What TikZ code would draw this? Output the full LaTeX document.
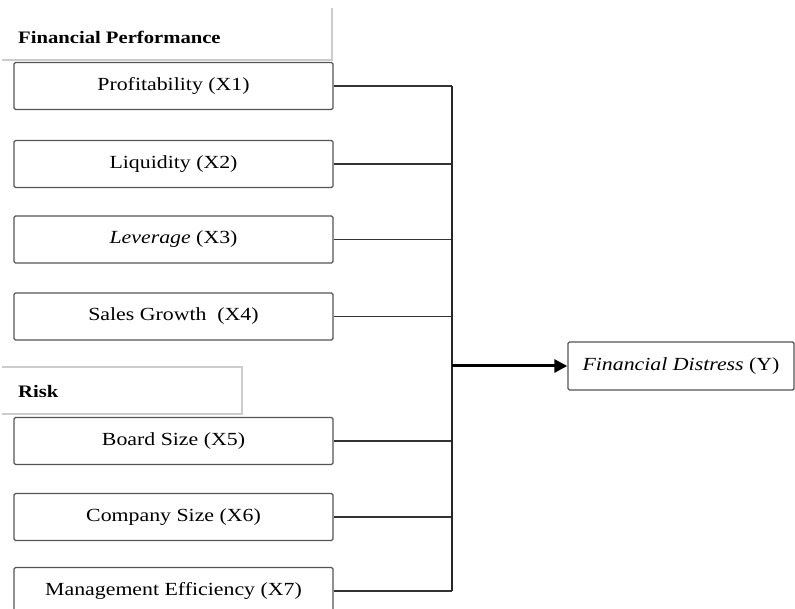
\documentclass[tikz,border=0pt]{standalone}
\usepackage{fontspec}
\setmainfont[FakeStretch=1.18]{Liberation Serif}
\usetikzlibrary{arrows.meta}
\definecolor{boxgray}{HTML}{555555}
\definecolor{linkgray}{HTML}{333333}
\definecolor{rulegray}{HTML}{CCCCCC}
\begin{document}
\begin{tikzpicture}[x=1pt,y=-1pt,
  box/.style={draw=boxgray, line width=1.4pt, rounded corners=1.5pt, minimum width=319pt, minimum height=47pt, inner sep=0pt, font=\fontsize{18.5}{21}\selectfont},
  link/.style={draw=linkgray, line width=1.8pt},
  head/.style={font=\bfseries\fontsize{17.5}{20}\selectfont, anchor=west, inner sep=0pt},
  rulel/.style={draw=rulegray, line width=1.3pt}]
\useasboundingbox (0,0) rectangle (795,609);
\clip (0,0) rectangle (795,609);
\fill[white] (0,0) rectangle (795,609);
% headings
\node[head] (fp) at (18,37) {Financial Performance};
\draw[rulel] (2,60) -- (332,60) -- (332,8);
\node[head] (risk) at (18,392) {Risk};
\draw[rulel] (2,367) -- (242,367) -- (242,414) -- (2,414);
% boxes
\node[box] (x1) at (173.5,86) {Profitability (X1)};
\node[box] (x2) at (173.5,164) {Liquidity (X2)};
\node[box] (x3) at (173.5,239.5) {\textit{Leverage} (X3)};
\node[box] (x4) at (173.5,316.5) {Sales Growth\ \ (X4)};
\node[box] (x5) at (173.5,441) {Board Size (X5)};
\node[box] (x6) at (173.5,517) {Company Size (X6)};
\node[box] (x7) at (173.5,591) {Management Efficiency (X7)};
\node[box, minimum width=226pt, minimum height=48pt] (y) at (681,366) {\textit{Financial Distress} (Y)};
% connectors
\coordinate (bus) at (452,0);
\foreach \n in {x1,x2,x3,x4,x5,x6,x7}{
  \draw[link] (\n.east) -- (\n.east -| bus);
}
\draw[line width=2.4pt, draw=black!85] (x1.east -| bus) -- (x7.east -| bus);
\draw[line width=3pt, -{Triangle[length=13pt,width=13pt]}] (y.west -| bus) -- (y.west);
\end{tikzpicture}
\end{document}
